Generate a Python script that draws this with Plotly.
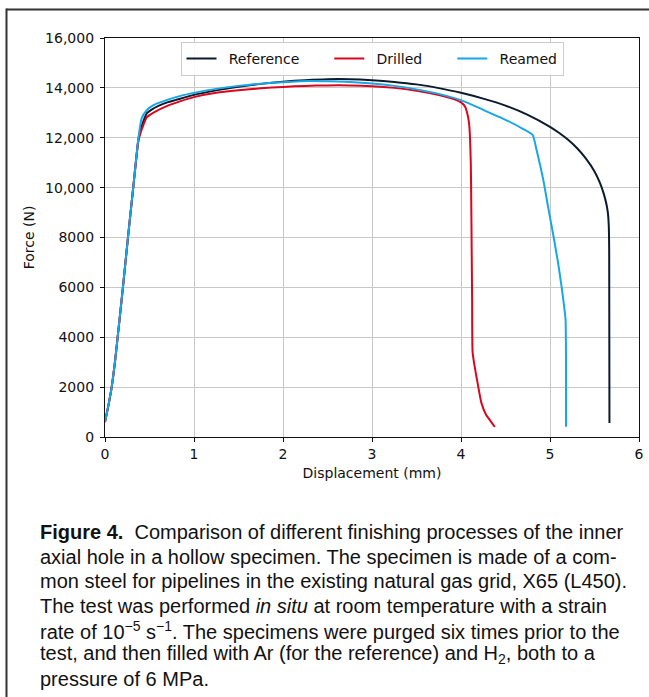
import plotly.graph_objects as go

# ---------------- data ----------------
ref_disp = [0.0, 0.04, 0.075, 0.11, 0.142, 0.2, 0.258, 0.32, 0.374, 0.40, 0.43, 0.469, 0.52, 0.6, 0.7, 0.8,
            1.0, 1.25, 1.5, 1.75, 2.0, 2.25, 2.5, 2.75, 3.0, 3.25, 3.5, 3.75, 4.0, 4.25, 4.5, 4.75,
            5.0, 5.1, 5.2, 5.3, 5.4, 5.5, 5.56, 5.6, 5.63, 5.65, 5.66, 5.665, 5.668]
ref_force = [600, 1300, 2000, 2950, 4000, 5950, 8000, 10100, 11900, 12350, 12650, 12980, 13120, 13280, 13420, 13520,
             13720, 13900, 14040, 14160, 14250, 14310, 14350, 14350, 14310, 14240, 14140, 13990, 13805, 13570, 13290, 12920,
             12440, 12200, 11930, 11600, 11180, 10650, 10200, 9800, 9400, 9000, 8500, 7500, 560]

drl_disp = [0.0, 0.04, 0.075, 0.11, 0.142, 0.2, 0.258, 0.32, 0.374, 0.40, 0.43, 0.469, 0.55, 0.7, 0.85,
            1.0, 1.25, 1.5, 1.75, 2.0, 2.25, 2.5, 2.75, 3.0, 3.25, 3.5, 3.75, 3.9, 4.0, 4.045, 4.07,
            4.09, 4.10, 4.11, 4.115, 4.12, 4.125, 4.13, 4.15, 4.18, 4.21, 4.23, 4.28, 4.33, 4.38]
drl_force = [600, 1300, 2000, 2950, 4000, 5950, 8000, 10100, 11850, 12200, 12500, 12820, 13020, 13280, 13470,
             13630, 13800, 13900, 13980, 14040, 14080, 14100, 14100, 14070, 14000, 13880, 13710, 13570, 13420, 13250, 12980,
             12600, 12100, 11000, 9500, 7500, 5500, 3420, 2900, 2290, 1700, 1360, 900, 650, 410]

rmd_disp = [0.0, 0.04, 0.075, 0.11, 0.142, 0.2, 0.258, 0.32, 0.374, 0.412, 0.469, 0.55, 0.7, 0.85,
            1.0, 1.25, 1.5, 1.75, 2.0, 2.3, 2.5, 2.75, 3.0, 3.25, 3.5, 3.75, 4.0, 4.25, 4.5, 4.7,
            4.805, 4.85, 4.925, 4.98, 5.04, 5.09, 5.13, 5.16, 5.175, 5.18, 5.18]
rmd_force = [600, 1300, 2000, 2950, 4000, 5950, 8000, 10100, 11950, 12780, 13110, 13320, 13520, 13680,
             13800, 13960, 14080, 14170, 14230, 14280, 14270, 14240, 14180, 14080, 13940, 13760, 13510, 13120, 12720, 12350,
             12110, 11500, 10300, 9200, 8030, 7000, 6030, 5200, 4690, 3000, 410]

series_names = ["Reference", "Drilled", "Reamed"]
series_colors = ["#0c1a2e", "#d8071d", "#17a6e6"]

x_ticks = [0, 1, 2, 3, 4, 5, 6]
y_ticks = [0, 2000, 4000, 6000, 8000, 10000, 12000, 14000, 16000]
y_ticktext = ["0", "2000", "4000", "6000", "8000", "10,000", "12,000", "14,000", "16,000"]

caption_lines = [
    "<b>Figure 4.</b>&nbsp; Comparison of different finishing processes of the inner",
    "axial hole in a hollow specimen. The specimen is made of a com-",
    "mon steel for pipelines in the existing natural gas grid, X65 (L450).",
    "The test was performed <i>in situ</i> at room temperature with a strain",
    "rate of 10<sup>\u22125</sup> s<sup>\u22121</sup>. The specimens were purged six times prior to the",
    "test, and then filled with Ar (for the reference) and H<sub>2</sub>, both to a",
    "pressure of 6 MPa.",
]

# ---------------- figure ----------------
W, H = 649, 697
L, T = 105, 38
R = W - 639
B = H - 437
pw = W - L - R
ph = H - T - B


def py2paper(page_y):
    return (T + ph - page_y) / ph


def px2paper(page_x):
    return (page_x - L) / pw


fig = go.Figure()
lead = "&nbsp;\u2009"
trail = "&nbsp;&nbsp;&nbsp;&nbsp;&nbsp;\u2009"
for i, (name, col, xs, ys) in enumerate(zip(series_names, series_colors,
                                            [ref_disp, drl_disp, rmd_disp],
                                            [ref_force, drl_force, rmd_force])):
    label = lead + name + (trail if i < len(series_names) - 1 else "")
    fig.add_trace(go.Scatter(x=xs, y=ys, mode="lines", name=label,
                             line=dict(color=col, width=2, shape="spline", smoothing=0.5)))

fig.update_layout(
    width=W, height=H, autosize=False,
    margin=dict(l=L, r=R, t=T, b=B, pad=0),
    paper_bgcolor="white", plot_bgcolor="white",
    font=dict(family="DejaVu Sans", size=14, color="#111111"),
    legend=dict(orientation="h", x=0.5, xanchor="center", y=py2paper(42), yanchor="top",
                bgcolor="rgba(255,255,255,0.85)", bordercolor="#cccccc", borderwidth=1,
                font=dict(family="DejaVu Sans", size=14, color="#111111"),
                itemwidth=30, tracegroupgap=0),
    xaxis=dict(range=[0, 6], tickvals=x_ticks, ticks="outside", ticklen=4, tickwidth=1,
               tickcolor="#111111", showline=True, linecolor="#111111", linewidth=1.2, mirror=True,
               showgrid=True, gridcolor="#c8c8c8", gridwidth=1, zeroline=False, automargin=False,
               title=dict(text="Displacement (mm)", font=dict(family="DejaVu Sans", size=14), standoff=7)),
    yaxis=dict(range=[0, 16000], tickvals=y_ticks, ticktext=y_ticktext, ticks="outside", ticklen=4,
               tickwidth=1, tickcolor="#111111", showline=True, linecolor="#111111", linewidth=1.2,
               mirror=True, showgrid=True, gridcolor="#c8c8c8", gridwidth=1, zeroline=False,
               ticklabelstandoff=3, automargin=False,
               title=dict(text="Force (N)", font=dict(family="DejaVu Sans", size=14), standoff=7)),
)

# outer frame of the figure panel (left and top edges visible)
frame = dict(color="#333333", width=2)
fig.add_shape(type="line", xref="paper", yref="paper",
              x0=px2paper(6.5), x1=px2paper(W + 5), y0=py2paper(9.5), y1=py2paper(9.5),
              line=frame, layer="above")
fig.add_shape(type="line", xref="paper", yref="paper",
              x0=px2paper(6.5), x1=px2paper(6.5), y0=py2paper(8.5), y1=py2paper(H + 5),
              line=frame, layer="above")

line_centers = [532, 556.5, 581, 605.5, 630, 654.5, 679]
for txt, yc in zip(caption_lines, line_centers):
    fig.add_annotation(text=txt, xref="paper", yref="paper",
                       x=px2paper(39), y=py2paper(yc), xanchor="left", yanchor="middle",
                       align="left", showarrow=False, borderpad=0,
                       font=dict(family="Liberation Sans, Arial", size=20, color="#111111"))

fig.write_html("out.html",
               config={"displayModeBar": False, "responsive": False},
               post_script="document.body.style.margin='0';document.body.style.padding='0';"
                           "document.documentElement.style.overflow='hidden';")
